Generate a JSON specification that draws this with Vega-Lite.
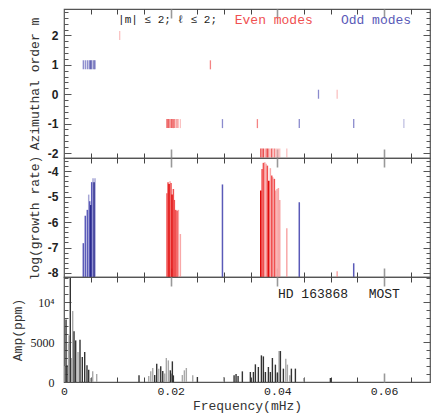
{
  "$schema": "https://vega.github.io/schema/vega-lite/v6.json",
  "padding": {"left": 10, "top": 7, "right": 5, "bottom": 0},
  "background": "white",
  "spacing": 0,
  "bounds": "flush",
  "config": {
    "axis": {"grid": false, "domain": false, "labelOverlap": false},
    "view": {"stroke": "#555", "strokeWidth": 1.2},
    "concat": {"spacing": 0}
  },
  "vconcat": [
    {
      "width": 366, "height": 149,
      "data": {"values": [
        {"f": 0.01044, "m": 2, "k": "el"},
        {"f": 0.00362, "m": 1, "k": "o"}, {"f": 0.00399, "m": 1, "k": "o"}, {"f": 0.00437, "m": 1, "k": "o"}, {"f": 0.00463, "m": 1, "k": "ol"}, {"f": 0.00482, "m": 1, "k": "o"}, {"f": 0.00501, "m": 1, "k": "O"}, {"f": 0.00519, "m": 1, "k": "o"}, {"f": 0.00544, "m": 1, "k": "ol"}, {"f": 0.00563, "m": 1, "k": "O"}, {"f": 0.00581, "m": 1, "k": "o"},
        {"f": 0.02744, "m": 1, "k": "e"},
        {"f": 0.0477, "m": 0, "k": "o"}, {"f": 0.0512, "m": 0, "k": "el"},
        {"f": 0.01931, "m": -1, "k": "E"}, {"f": 0.0195, "m": -1, "k": "e"}, {"f": 0.01969, "m": -1, "k": "E"}, {"f": 0.01988, "m": -1, "k": "el"}, {"f": 0.02006, "m": -1, "k": "e"}, {"f": 0.02025, "m": -1, "k": "E"}, {"f": 0.0205, "m": -1, "k": "e"}, {"f": 0.02068, "m": -1, "k": "e"}, {"f": 0.02094, "m": -1, "k": "el"}, {"f": 0.02119, "m": -1, "k": "e"}, {"f": 0.02143, "m": -1, "k": "el"}, {"f": 0.02181, "m": -1, "k": "el"},
        {"f": 0.0297, "m": -1, "k": "o"}, {"f": 0.03625, "m": -1, "k": "e"}, {"f": 0.0441, "m": -1, "k": "o"}, {"f": 0.0543, "m": -1, "k": "o"}, {"f": 0.0637, "m": -1, "k": "ol"},
        {"f": 0.03688, "m": -2, "k": "E"}, {"f": 0.03713, "m": -2, "k": "e"}, {"f": 0.03737, "m": -2, "k": "E"}, {"f": 0.03763, "m": -2, "k": "el"}, {"f": 0.03788, "m": -2, "k": "e"}, {"f": 0.03812, "m": -2, "k": "E"}, {"f": 0.03838, "m": -2, "k": "e"}, {"f": 0.03868, "m": -2, "k": "el"}, {"f": 0.03894, "m": -2, "k": "E"}, {"f": 0.03913, "m": -2, "k": "el"}, {"f": 0.03943, "m": -2, "k": "e"}, {"f": 0.03969, "m": -2, "k": "el"}, {"f": 0.03994, "m": -2, "k": "el"}, {"f": 0.04018, "m": -2, "k": "el"}, {"f": 0.04044, "m": -2, "k": "el"}, {"f": 0.04176, "m": -2, "k": "el"}
      ]},
      "layer": [
        {
          "mark": {"type": "tick", "orient": "vertical", "size": 9, "thickness": 1.3},
          "encoding": {
            "x": {"field": "f", "type": "quantitative", "scale": {"domain": [0, 0.0686], "nice": false, "zero": false},
                  "axis": {"orient": "bottom", "values": [0.005, 0.01, 0.015, 0.025, 0.03, 0.035, 0.045, 0.05, 0.055, 0.065], "tickSize": -5, "tickColor": "#444", "tickWidth": 1, "labels": false, "title": null}},
            "y": {"field": "m", "type": "quantitative", "scale": {"domain": [-2.17, 2.9], "nice": false, "zero": false},
                  "axis": {"orient": "left", "values": [-2, -1, 0, 1, 2], "ticks": false, "labelFont": "Liberation Sans", "labelFontWeight": "bold", "labelFontSize": 12, "labelColor": "#222", "labelPadding": 6, "labelExpr": "datum.value < 0 ? '-' + abs(datum.value) : '' + datum.value", "title": "Azimuthal order m", "titleFont": "Liberation Mono", "titleFontSize": 13, "titleFontWeight": "normal", "titleColor": "#333", "titlePadding": 6}},
            "color": {"field": "k", "type": "nominal", "legend": null, "scale": {"domain": ["E", "e", "el", "O", "o", "ol", "K", "G"], "range": ["#e00808", "#f05050", "#f8a8a8", "#2a2a8e", "#5a5ab8", "#a6a6d6", "#333333", "#a8a8a8"]}}
          }
        },
        {
          "mark": {"type": "point", "opacity": 0},
          "encoding": {
            "x": {"field": "f", "type": "quantitative", "scale": {"domain": [0, 0.0686], "nice": false, "zero": false},
                  "axis": {"orient": "bottom", "values": [0.02, 0.04, 0.06], "tickSize": -9, "tickColor": "#999", "tickWidth": 1.6, "labels": false, "title": null}},
            "y": {"field": "m", "type": "quantitative", "scale": {"domain": [-2.17, 2.9], "nice": false, "zero": false},
                  "axis": {"orient": "left", "values": [-2, -1, 0, 1, 2], "tickSize": -7, "tickColor": "#555", "labels": false, "title": null}}
          }
        },
        {
          "mark": {"type": "point", "opacity": 0},
          "encoding": {
            "x": {"field": "f", "type": "quantitative", "scale": {"domain": [0, 0.0686], "nice": false, "zero": false},
                  "axis": {"orient": "top", "values": [0.005, 0.01, 0.015, 0.025, 0.03, 0.035, 0.045, 0.05, 0.055, 0.065], "tickSize": -5, "tickColor": "#444", "tickWidth": 1, "labels": false, "title": null}},
            "y": {"field": "m", "type": "quantitative", "scale": {"domain": [-2.17, 2.9], "nice": false, "zero": false},
                  "axis": {"orient": "left", "values": [-1.8, -1.6, -1.4, -1.2, -0.8, -0.6, -0.4, -0.2, 0.2, 0.4, 0.6, 0.8, 1.2, 1.4, 1.6, 1.8, 2.2, 2.4, 2.6, 2.8], "tickSize": -4, "tickColor": "#555", "labels": false, "title": null}}
          }
        },
        {
          "mark": {"type": "point", "opacity": 0},
          "encoding": {
            "x": {"field": "f", "type": "quantitative", "scale": {"domain": [0, 0.0686], "nice": false, "zero": false},
                  "axis": {"orient": "top", "values": [0.02, 0.04, 0.06], "tickSize": -9, "tickColor": "#999", "tickWidth": 1.6, "labels": false, "title": null}},
            "y": {"field": "m", "type": "quantitative", "scale": {"domain": [-2.17, 2.9], "nice": false, "zero": false},
                  "axis": {"orient": "right", "values": [-2, -1, 0, 1, 2], "tickSize": -7, "tickColor": "#555", "labels": false, "title": null}}
          }
        },
        {
          "mark": {"type": "point", "opacity": 0},
          "encoding": {
            "x": {"field": "f", "type": "quantitative", "scale": {"domain": [0, 0.0686], "nice": false, "zero": false}, "axis": null},
            "y": {"field": "m", "type": "quantitative", "scale": {"domain": [-2.17, 2.9], "nice": false, "zero": false},
                  "axis": {"orient": "right", "values": [-1.8, -1.6, -1.4, -1.2, -0.8, -0.6, -0.4, -0.2, 0.2, 0.4, 0.6, 0.8, 1.2, 1.4, 1.6, 1.8, 2.2, 2.4, 2.6, 2.8], "tickSize": -4, "tickColor": "#555", "labels": false, "title": null}}
          }
        },
        {
          "data": {"values": [{"t": "|m| ≤ 2; ℓ ≤ 2;", "f": 0.01013, "m": 2.52}]},
          "mark": {"type": "text", "align": "left", "baseline": "middle", "font": "Liberation Mono", "fontSize": 11, "color": "#222"},
          "encoding": {
            "x": {"field": "f", "type": "quantitative", "scale": {"domain": [0, 0.0686], "nice": false, "zero": false}, "axis": null},
            "y": {"field": "m", "type": "quantitative", "scale": {"domain": [-2.17, 2.9], "nice": false, "zero": false}, "axis": null},
            "text": {"field": "t"}
          }
        },
        {
          "data": {"values": [{"t": "Even modes", "f": 0.032, "m": 2.52, "k": "e"}, {"t": "Odd modes", "f": 0.0519, "m": 2.52, "k": "o"}]},
          "mark": {"type": "text", "align": "left", "baseline": "middle", "font": "Liberation Mono", "fontSize": 13},
          "encoding": {
            "x": {"field": "f", "type": "quantitative", "scale": {"domain": [0, 0.0686], "nice": false, "zero": false}, "axis": null},
            "y": {"field": "m", "type": "quantitative", "scale": {"domain": [-2.17, 2.9], "nice": false, "zero": false}, "axis": null},
            "text": {"field": "t"},
            "color": {"field": "k", "type": "nominal", "legend": null, "scale": {"domain": ["E", "e", "el", "O", "o", "ol", "K", "G"], "range": ["#e00808", "#f05050", "#f8a8a8", "#2a2a8e", "#5a5ab8", "#a6a6d6", "#333333", "#a8a8a8"]}}
          }
        }
      ],
      "resolve": {"axis": {"x": "independent", "y": "independent"}}
    },
    {
      "width": 366, "height": 119,
      "data": {"values": [
        {"f": 0.00463, "g": -4.92, "k": "ol"}, {"f": 0.00544, "g": -4.28, "k": "ol"}, {"f": 0.00581, "g": -4.28, "k": "ol"},
        {"f": 0.00362, "g": -6.83, "k": "o"}, {"f": 0.00399, "g": -5.75, "k": "o"}, {"f": 0.00437, "g": -5.52, "k": "o"}, {"f": 0.00482, "g": -5.18, "k": "o"}, {"f": 0.00519, "g": -4.43, "k": "o"},
        {"f": 0.00501, "g": -5.33, "k": "O"}, {"f": 0.00563, "g": -4.43, "k": "O"},
        {"f": 0.01988, "g": -4.39, "k": "el"}, {"f": 0.02143, "g": -5.52, "k": "el"}, {"f": 0.02181, "g": -6.47, "k": "el"},
        {"f": 0.01931, "g": -4.87, "k": "e"}, {"f": 0.0195, "g": -4.43, "k": "e"}, {"f": 0.02006, "g": -4.46, "k": "e"}, {"f": 0.0205, "g": -4.70, "k": "e"}, {"f": 0.02068, "g": -5.13, "k": "e"}, {"f": 0.02094, "g": -5.52, "k": "e"}, {"f": 0.02119, "g": -5.55, "k": "e"},
        {"f": 0.01969, "g": -4.50, "k": "E"}, {"f": 0.02025, "g": -4.92, "k": "E"},
        {"f": 0.0297, "g": -4.52, "k": "o"},
        {"f": 0.03763, "g": -3.65, "k": "el"}, {"f": 0.03788, "g": -3.71, "k": "el"}, {"f": 0.03868, "g": -3.88, "k": "el"}, {"f": 0.03913, "g": -4.24, "k": "el"}, {"f": 0.03969, "g": -4.76, "k": "el"}, {"f": 0.03994, "g": -4.70, "k": "el"}, {"f": 0.04018, "g": -4.66, "k": "el"}, {"f": 0.04044, "g": -5.13, "k": "el"}, {"f": 0.04176, "g": -6.24, "k": "el"},
        {"f": 0.03713, "g": -3.91, "k": "e"}, {"f": 0.03737, "g": -3.67, "k": "e"}, {"f": 0.03812, "g": -3.78, "k": "e"}, {"f": 0.03894, "g": -4.17, "k": "e"}, {"f": 0.03943, "g": -4.30, "k": "e"},
        {"f": 0.03688, "g": -4.76, "k": "E"}, {"f": 0.03838, "g": -4.37, "k": "E"},
        {"f": 0.0441, "g": -5.22, "k": "o"}, {"f": 0.0512, "g": -7.93, "k": "el"}, {"f": 0.0543, "g": -7.62, "k": "o"}
      ]},
      "layer": [
        {
          "mark": {"type": "rule", "strokeWidth": 1.5},
          "encoding": {
            "x": {"field": "f", "type": "quantitative", "scale": {"domain": [0, 0.0686], "nice": false, "zero": false},
                  "axis": {"orient": "bottom", "values": [0.005, 0.01, 0.015, 0.025, 0.03, 0.035, 0.045, 0.05, 0.055, 0.065], "tickSize": -5, "tickColor": "#444", "tickWidth": 1, "labels": false, "title": null}},
            "y": {"field": "g", "type": "quantitative", "scale": {"domain": [-8.16, -3.48], "nice": false, "zero": false},
                  "axis": {"orient": "left", "values": [-8, -7, -6, -5, -4], "ticks": false, "labelFont": "Liberation Sans", "labelFontWeight": "bold", "labelFontSize": 12, "labelColor": "#222", "labelPadding": 6, "labelExpr": "datum.value < 0 ? '-' + abs(datum.value) : '' + datum.value", "title": "log(growth rate)", "titleFont": "Liberation Mono", "titleFontSize": 13, "titleFontWeight": "normal", "titleColor": "#333", "titlePadding": 6}},
            "y2": {"datum": -8.16},
            "color": {"field": "k", "type": "nominal", "legend": null, "scale": {"domain": ["E", "e", "el", "O", "o", "ol", "K", "G"], "range": ["#e00808", "#f05050", "#f8a8a8", "#2a2a8e", "#5a5ab8", "#a6a6d6", "#333333", "#a8a8a8"]}}
          }
        },
        {
          "mark": {"type": "point", "opacity": 0},
          "encoding": {
            "x": {"field": "f", "type": "quantitative", "scale": {"domain": [0, 0.0686], "nice": false, "zero": false},
                  "axis": {"orient": "bottom", "values": [0.02, 0.04, 0.06], "tickSize": -9, "tickColor": "#999", "tickWidth": 1.6, "labels": false, "title": null}},
            "y": {"field": "g", "type": "quantitative", "scale": {"domain": [-8.16, -3.48], "nice": false, "zero": false},
                  "axis": {"orient": "left", "values": [-8, -7, -6, -5, -4], "tickSize": -7, "tickColor": "#555", "labels": false, "title": null}}
          }
        },
        {
          "mark": {"type": "point", "opacity": 0},
          "encoding": {
            "x": {"field": "f", "type": "quantitative", "scale": {"domain": [0, 0.0686], "nice": false, "zero": false},
                  "axis": {"orient": "top", "values": [0.005, 0.01, 0.015, 0.025, 0.03, 0.035, 0.045, 0.05, 0.055, 0.065], "tickSize": -5, "tickColor": "#444", "tickWidth": 1, "labels": false, "title": null}},
            "y": {"field": "g", "type": "quantitative", "scale": {"domain": [-8.16, -3.48], "nice": false, "zero": false},
                  "axis": {"orient": "left", "values": [-7.8, -7.6, -7.4, -7.2, -6.8, -6.6, -6.4, -6.2, -5.8, -5.6, -5.4, -5.2, -4.8, -4.6, -4.4, -4.2, -3.8, -3.6], "tickSize": -4, "tickColor": "#555", "labels": false, "title": null}}
          }
        },
        {
          "mark": {"type": "point", "opacity": 0},
          "encoding": {
            "x": {"field": "f", "type": "quantitative", "scale": {"domain": [0, 0.0686], "nice": false, "zero": false},
                  "axis": {"orient": "top", "values": [0.02, 0.04, 0.06], "tickSize": -9, "tickColor": "#999", "tickWidth": 1.6, "labels": false, "title": null}},
            "y": {"field": "g", "type": "quantitative", "scale": {"domain": [-8.16, -3.48], "nice": false, "zero": false},
                  "axis": {"orient": "right", "values": [-8, -7, -6, -5, -4], "tickSize": -7, "tickColor": "#555", "labels": false, "title": null}}
          }
        },
        {
          "mark": {"type": "point", "opacity": 0},
          "encoding": {
            "x": {"field": "f", "type": "quantitative", "scale": {"domain": [0, 0.0686], "nice": false, "zero": false}, "axis": null},
            "y": {"field": "g", "type": "quantitative", "scale": {"domain": [-8.16, -3.48], "nice": false, "zero": false},
                  "axis": {"orient": "right", "values": [-7.8, -7.6, -7.4, -7.2, -6.8, -6.6, -6.4, -6.2, -5.8, -5.6, -5.4, -5.2, -4.8, -4.6, -4.4, -4.2, -3.8, -3.6], "tickSize": -4, "tickColor": "#555", "labels": false, "title": null}}
          }
        }
      ],
      "resolve": {"axis": {"x": "independent", "y": "independent"}}
    },
    {
      "width": 366, "height": 105,
      "data": {"values": [
        {"f": 0.0002, "a": 2000, "k": "G"}, {"f": 0.00084, "a": 4800, "k": "G"}, {"f": 0.00094, "a": 5830, "k": "G"}, {"f": 0.0014, "a": 3000, "k": "G"}, {"f": 0.00163, "a": 8870, "k": "G"}, {"f": 0.00263, "a": 3750, "k": "G"}, {"f": 0.005, "a": 500, "k": "G"}, {"f": 0.00538, "a": 1330, "k": "G"}, {"f": 0.00613, "a": 1000, "k": "G"},
        {"f": 0.00038, "a": 7800, "k": "K"}, {"f": 0.00056, "a": 2100, "k": "K"}, {"f": 0.00118, "a": 13000, "k": "K"}, {"f": 0.00188, "a": 6330, "k": "K"}, {"f": 0.00219, "a": 5200, "k": "K"}, {"f": 0.003, "a": 5290, "k": "K"}, {"f": 0.00343, "a": 3125, "k": "K"}, {"f": 0.00388, "a": 3750, "k": "K"}, {"f": 0.00431, "a": 2080, "k": "K"}, {"f": 0.00463, "a": 1540, "k": "K"},
        {"f": 0.01588, "a": 750, "k": "G"}, {"f": 0.01626, "a": 1330, "k": "G"}, {"f": 0.01663, "a": 1750, "k": "G"}, {"f": 0.01776, "a": 1670, "k": "G"}, {"f": 0.01888, "a": 1050, "k": "G"}, {"f": 0.01918, "a": 3000, "k": "G"}, {"f": 0.01956, "a": 2700, "k": "G"}, {"f": 0.02218, "a": 870, "k": "G"}, {"f": 0.02256, "a": 1460, "k": "G"}, {"f": 0.02293, "a": 1750, "k": "G"}, {"f": 0.02413, "a": 830, "k": "G"}, {"f": 0.02994, "a": 625, "k": "G"},
        {"f": 0.01406, "a": 830, "k": "K"}, {"f": 0.017, "a": 870, "k": "K"}, {"f": 0.01738, "a": 2290, "k": "K"}, {"f": 0.01813, "a": 1960, "k": "K"}, {"f": 0.01851, "a": 1375, "k": "K"}, {"f": 0.01993, "a": 1460, "k": "K"}, {"f": 0.02031, "a": 2580, "k": "K"}, {"f": 0.0205, "a": 830, "k": "K"}, {"f": 0.025, "a": 625, "k": "K"},
        {"f": 0.04031, "a": 3870, "k": "G"}, {"f": 0.04157, "a": 2920, "k": "G"}, {"f": 0.04187, "a": 2170, "k": "G"}, {"f": 0.04232, "a": 830, "k": "G"}, {"f": 0.04494, "a": 500, "k": "G"},
        {"f": 0.03188, "a": 830, "k": "K"}, {"f": 0.03225, "a": 1000, "k": "K"}, {"f": 0.03263, "a": 750, "k": "K"}, {"f": 0.03343, "a": 1330, "k": "K"}, {"f": 0.03493, "a": 1250, "k": "K"}, {"f": 0.0355, "a": 1250, "k": "K"}, {"f": 0.03587, "a": 2210, "k": "K"}, {"f": 0.03643, "a": 1875, "k": "K"}, {"f": 0.037, "a": 3330, "k": "K"}, {"f": 0.03737, "a": 3200, "k": "K"}, {"f": 0.03775, "a": 1250, "k": "K"}, {"f": 0.03831, "a": 1875, "k": "K"}, {"f": 0.03868, "a": 1250, "k": "K"}, {"f": 0.03906, "a": 3000, "k": "K"}, {"f": 0.03962, "a": 2170, "k": "K"}, {"f": 0.04, "a": 1200, "k": "K"}, {"f": 0.04056, "a": 3870, "k": "K"}, {"f": 0.04112, "a": 1670, "k": "K"}, {"f": 0.04262, "a": 1670, "k": "K"}, {"f": 0.04337, "a": 1670, "k": "K"}, {"f": 0.04993, "a": 500, "k": "K"}
      ]},
      "layer": [
        {
          "mark": {"type": "rule", "strokeWidth": 1.4},
          "encoding": {
            "x": {"field": "f", "type": "quantitative", "scale": {"domain": [0, 0.0686], "nice": false, "zero": false},
                  "axis": {"orient": "bottom", "values": [0.005, 0.01, 0.015, 0.025, 0.03, 0.035, 0.045, 0.05, 0.055, 0.065], "tickSize": -5, "tickColor": "#444", "tickWidth": 1, "labels": false, "title": null}},
            "y": {"field": "a", "type": "quantitative", "scale": {"domain": [0, 13125], "nice": false, "zero": false},
                  "axis": {"orient": "left", "values": [0, 5000, 10000], "ticks": false, "labelFont": "Liberation Serif", "labelFontSize": 12, "labelColor": "#222", "labelPadding": 10, "labelExpr": "datum.value >= 10000 ? '10⁴' : '' + datum.value", "title": "Amp(ppm)", "titleFont": "Liberation Mono", "titleFontSize": 13, "titleFontWeight": "normal", "titleColor": "#333", "titlePadding": 6}},
            "y2": {"datum": 0},
            "color": {"field": "k", "type": "nominal", "legend": null, "scale": {"domain": ["E", "e", "el", "O", "o", "ol", "K", "G"], "range": ["#e00808", "#f05050", "#f8a8a8", "#2a2a8e", "#5a5ab8", "#a6a6d6", "#333333", "#a8a8a8"]}}
          }
        },
        {
          "mark": {"type": "point", "opacity": 0},
          "encoding": {
            "x": {"field": "f", "type": "quantitative", "scale": {"domain": [0, 0.0686], "nice": false, "zero": false},
                  "axis": {"orient": "bottom", "values": [0.02, 0.04, 0.06], "tickSize": -9, "tickColor": "#999", "tickWidth": 1.6, "labels": false, "title": null}},
            "y": {"field": "a", "type": "quantitative", "scale": {"domain": [0, 13125], "nice": false, "zero": false},
                  "axis": {"orient": "left", "values": [0, 5000, 10000], "tickSize": -7, "tickColor": "#555", "labels": false, "title": null}}
          }
        },
        {
          "mark": {"type": "point", "opacity": 0},
          "encoding": {
            "x": {"field": "f", "type": "quantitative", "scale": {"domain": [0, 0.0686], "nice": false, "zero": false},
                  "axis": {"orient": "top", "values": [0.005, 0.01, 0.015, 0.025, 0.03, 0.035, 0.045, 0.05, 0.055, 0.065], "tickSize": -5, "tickColor": "#444", "tickWidth": 1, "labels": false, "title": null}},
            "y": {"field": "a", "type": "quantitative", "scale": {"domain": [0, 13125], "nice": false, "zero": false},
                  "axis": {"orient": "left", "values": [1000, 2000, 3000, 4000, 6000, 7000, 8000, 9000, 11000, 12000, 13000], "tickSize": -4, "tickColor": "#555", "labels": false, "title": null}}
          }
        },
        {
          "mark": {"type": "point", "opacity": 0},
          "encoding": {
            "x": {"field": "f", "type": "quantitative", "scale": {"domain": [0, 0.0686], "nice": false, "zero": false},
                  "axis": {"orient": "top", "values": [0.02, 0.04, 0.06], "tickSize": -9, "tickColor": "#999", "tickWidth": 1.6, "labels": false, "title": null}},
            "y": {"field": "a", "type": "quantitative", "scale": {"domain": [0, 13125], "nice": false, "zero": false},
                  "axis": {"orient": "right", "values": [0, 5000, 10000], "tickSize": -7, "tickColor": "#555", "labels": false, "title": null}}
          }
        },
        {
          "mark": {"type": "point", "opacity": 0},
          "encoding": {
            "x": {"field": "f", "type": "quantitative", "scale": {"domain": [0, 0.0686], "nice": false, "zero": false},
                  "axis": {"orient": "bottom", "values": [0, 0.02, 0.04, 0.06], "ticks": false, "labelFlush": false, "labelExpr": "datum.value == 0 ? '0' : format(datum.value, '.2f')", "labelFont": "Liberation Mono", "labelFontSize": 11.5, "labelColor": "#222", "labelPadding": 3, "title": "Frequency(mHz)", "titleFont": "Liberation Mono", "titleFontSize": 13, "titleFontWeight": "normal", "titleColor": "#333", "titlePadding": 3}},
            "y": {"field": "a", "type": "quantitative", "scale": {"domain": [0, 13125], "nice": false, "zero": false},
                  "axis": {"orient": "right", "values": [1000, 2000, 3000, 4000, 6000, 7000, 8000, 9000, 11000, 12000, 13000], "tickSize": -4, "tickColor": "#555", "labels": false, "title": null}}
          }
        },
        {
          "data": {"values": [{"t": "HD 163868", "f": 0.0401, "a": 11040}, {"t": "MOST", "f": 0.0571, "a": 11040}]},
          "mark": {"type": "text", "align": "left", "baseline": "middle", "font": "Liberation Mono", "fontSize": 13, "color": "#222"},
          "encoding": {
            "x": {"field": "f", "type": "quantitative", "scale": {"domain": [0, 0.0686], "nice": false, "zero": false}, "axis": null},
            "y": {"field": "a", "type": "quantitative", "scale": {"domain": [0, 13125], "nice": false, "zero": false}, "axis": null},
            "text": {"field": "t"}
          }
        }
      ],
      "resolve": {"axis": {"x": "independent", "y": "independent"}}
    }
  ]
}
